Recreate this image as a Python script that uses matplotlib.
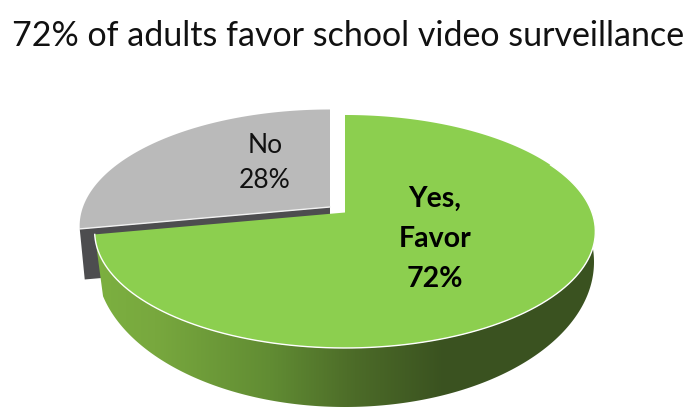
import numpy as np
import matplotlib
matplotlib.use('Agg')
import matplotlib.pyplot as plt
from matplotlib.colors import LinearSegmentedColormap
from matplotlib.patches import Polygon

title = '72% of adults favor school video surveillance'
slice_names = ['Yes,\nFavor', 'No']
slice_values = [72, 28]

plt.rcParams['font.family'] = ['Lato', 'DejaVu Sans']


# tilted circle -> picture coordinates, near edge is drawn bigger
def rim(theta, x0, y0, scale=1.0):
    u = np.sin(theta)
    v = -np.cos(theta)
    w = 1 - 0.163 * v
    return x0 + scale * 247 * u / w, y0 + scale * 113.4 * v / w


# bottom edge of the green side wall is a plain ellipse
def base(theta):
    return 345 + 249 * np.sin(theta), 262 - 145 * np.cos(theta)


def points(x, y):
    return np.column_stack([x, y])


fig = plt.figure(figsize=(7, 4.2), dpi=100)
ax = fig.add_axes([0, 0, 1, 1])

# slice angles, clockwise from the top
split = 2 * np.pi * slice_values[0] / sum(slice_values)
t_green = np.linspace(0, split, 300)
t_gray = np.linspace(split, 2 * np.pi, 120)

# exploded gray slice: top, then the dark cut wall below its edge
gx, gy = rim(t_gray, 330, 207)
lx, ly = rim(split, 330, 258, 0.98)
ax.add_patch(Polygon(points([gx[0], 330, 330, lx], [gy[0], 207, 258, ly]),
                     facecolor='#4d4d4f', edgecolor='none', zorder=1))
ax.add_patch(Polygon(points(np.r_[330, gx], np.r_[207, gy]),
                     facecolor='#bababa', edgecolor='none', zorder=2))
ax.plot([gx[0], 330], [gy[0], 207], color='#f2f2f2', lw=1, zorder=3)

# green side wall with a left to right shading
ux, uy = rim(t_green, 345, 212.5)
sx, sy = rim(t_green[t_green > 1.86], 345, 212.5)
bx, by = base(np.linspace(1.467, split - 0.05, 200))
wall = Polygon(points(np.r_[sx, bx[::-1]], np.r_[sy, by[::-1]]),
               facecolor='none', edgecolor='none', transform=ax.transData)
ax.add_patch(wall)
shade = LinearSegmentedColormap.from_list('shade', [
    (0.00, '#7cb040'), (0.12, '#78a83e'), (0.35, '#618c33'),
    (0.52, '#4c6b28'), (0.70, '#3a5220'), (1.00, '#3b5321')])
img = ax.imshow(np.linspace(0, 1, 256).reshape(1, -1), cmap=shade, aspect='auto',
                extent=(95, 595, 420, 100), zorder=4)
img.set_clip_path(wall)

# green top
ax.add_patch(Polygon(points(np.r_[345, ux], np.r_[212.5, uy]),
                     facecolor='#8ccf4f', edgecolor='none', zorder=5))
front = t_green > 1.1
ax.plot(ux[front], uy[front], color='white', lw=1, zorder=6)

ax.text(348.5, 36, title, ha='center', va='center', fontsize=24.5, color='#111111')
ax.text(265, 163, f'{slice_names[1]}\n{slice_values[1]}%', ha='center', va='center',
        fontsize=19, color='#111111', linespacing=1.52, zorder=7)
ax.text(435, 239, f'{slice_names[0]}\n{slice_values[0]}%', ha='center', va='center',
        fontsize=20.5, fontweight='bold', color='black', linespacing=1.65, zorder=7)

ax.set_xlim(0, 700)
ax.set_ylim(420, 0)
ax.axis('off')
fig.savefig('out.png', dpi=100)
